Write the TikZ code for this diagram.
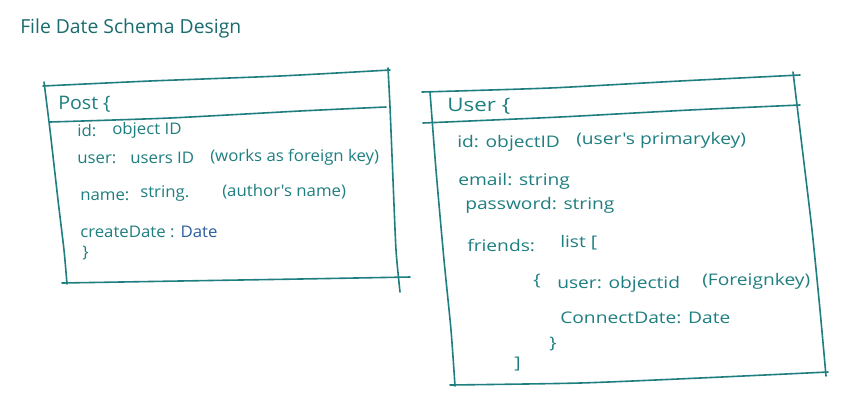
\documentclass[tikz,border=0pt]{standalone}
\usepackage{fontspec}
\setmainfont{Open Sans}
\newfontfamily\handp[FakeStretch=1.05]{Open Sans}
\newfontfamily\handu[FakeStretch=1.2]{Open Sans}
\definecolor{ink}{HTML}{1F7E80}
\definecolor{inkdark}{HTML}{1A6C6E}
\definecolor{inkblue}{HTML}{2C5E9E}
\begin{document}
\begin{tikzpicture}[x=0.75pt,y=-0.75pt,
  pen/.style={draw=ink,line width=1.2pt,line cap=round,line join=round},
  hand/.style={anchor=west,inner sep=0pt,text=ink,font=\handp\fontsize{12}{14}\selectfont},
  handu/.style={hand,font=\handu\fontsize{12}{14}\selectfont},
  title/.style={anchor=west,inner sep=0pt,text=inkdark,font=\fontsize{14.5}{17}\selectfont}]
\useasboundingbox (0,0) rectangle (866,408);
\fill[white] (0,0) rectangle (866,408);

% title
\node[title] (title) at (20,28) {File Date Schema Design};

% ---- Post table outline ----
\draw[pen] plot[smooth,tension=0.4] coordinates {(43,86) (150,81) (280,76) (390,70)};
\draw[pen] plot[smooth,tension=0.4] coordinates {(50,122) (170,118) (300,111) (386,107)};
\draw[pen] plot[smooth,tension=0.4] coordinates {(62,283) (180,281) (300,279) (410,277)};
\draw[pen] plot[smooth,tension=0.4] coordinates {(44,82) (50,130) (58,200) (64,250) (67,284)};
\draw[pen] plot[smooth,tension=0.4] coordinates {(388,68) (390,107) (393,180) (396,250) (400,292)};

% ---- Post fields ----
\node[hand,font=\handp\fontsize{14}{16}\selectfont] (ptitle) at (58,104) {Post \{};
\node[hand] (pid)    at (77,131)  {id:};
\node[hand] (pidv)   at (112,130) {object ID};
\node[hand] (puser)  at (77,159)  {user:};
\node[hand] (puserv) at (130,158) {users ID};
\node[hand] (pusern) at (210,157) {(works as foreign key)};
\node[hand] (pname)  at (80,196)  {name:};
\node[hand] (pnamev) at (140,194) {string.};
\node[hand] (pnamen) at (222,192) {(author's name)};
\node[hand] (pdate)  at (80,232)  {createDate : \textcolor{inkblue}{Date}};
\node[hand] (pend)   at (82,253)  {\}};

% ---- User table outline ----
\draw[pen] plot[smooth,tension=0.4] coordinates {(422,92) (550,88) (680,81) (800,75)};
\draw[pen] plot[smooth,tension=0.4] coordinates {(423,123) (560,117) (690,110) (800,105)};
\draw[pen] plot[smooth,tension=0.4] coordinates {(450,385) (580,383) (700,378) (828,372)};
\draw[pen] plot[smooth,tension=0.4] coordinates {(430,92) (436,170) (444,260) (451,330) (455,386)};
\draw[pen] plot[smooth,tension=0.4] coordinates {(793,72) (800,130) (812,230) (820,310) (826,376)};

% ---- User fields ----
\node[handu,font=\handu\fontsize{14}{16}\selectfont] (utitle) at (447,106) {User \{};
\node[handu] (uid)    at (457,143) {id: objectID};
\node[handu] (uidn)   at (576,140) {(user's primarykey)};
\node[handu] (umail)  at (458,181) {email: string};
\node[handu] (upass)  at (465,205) {password: string};
\node[handu] (ufri)   at (467,245) {friends:};
\node[handu] (ufriv)  at (560,243) {list [};
\node[handu] (uobj)   at (533,281) {\{};
\node[handu] (uuser)  at (557,284) {user: objectid};
\node[handu] (uusern) at (702,281) {(Foreignkey)};
\node[handu] (ucon)   at (560,318) {ConnectDate: Date};
\node[handu] (uobjend) at (549,344) {\}};
\node[handu] (ulistend) at (514,364) {]};
\end{tikzpicture}
\end{document}
